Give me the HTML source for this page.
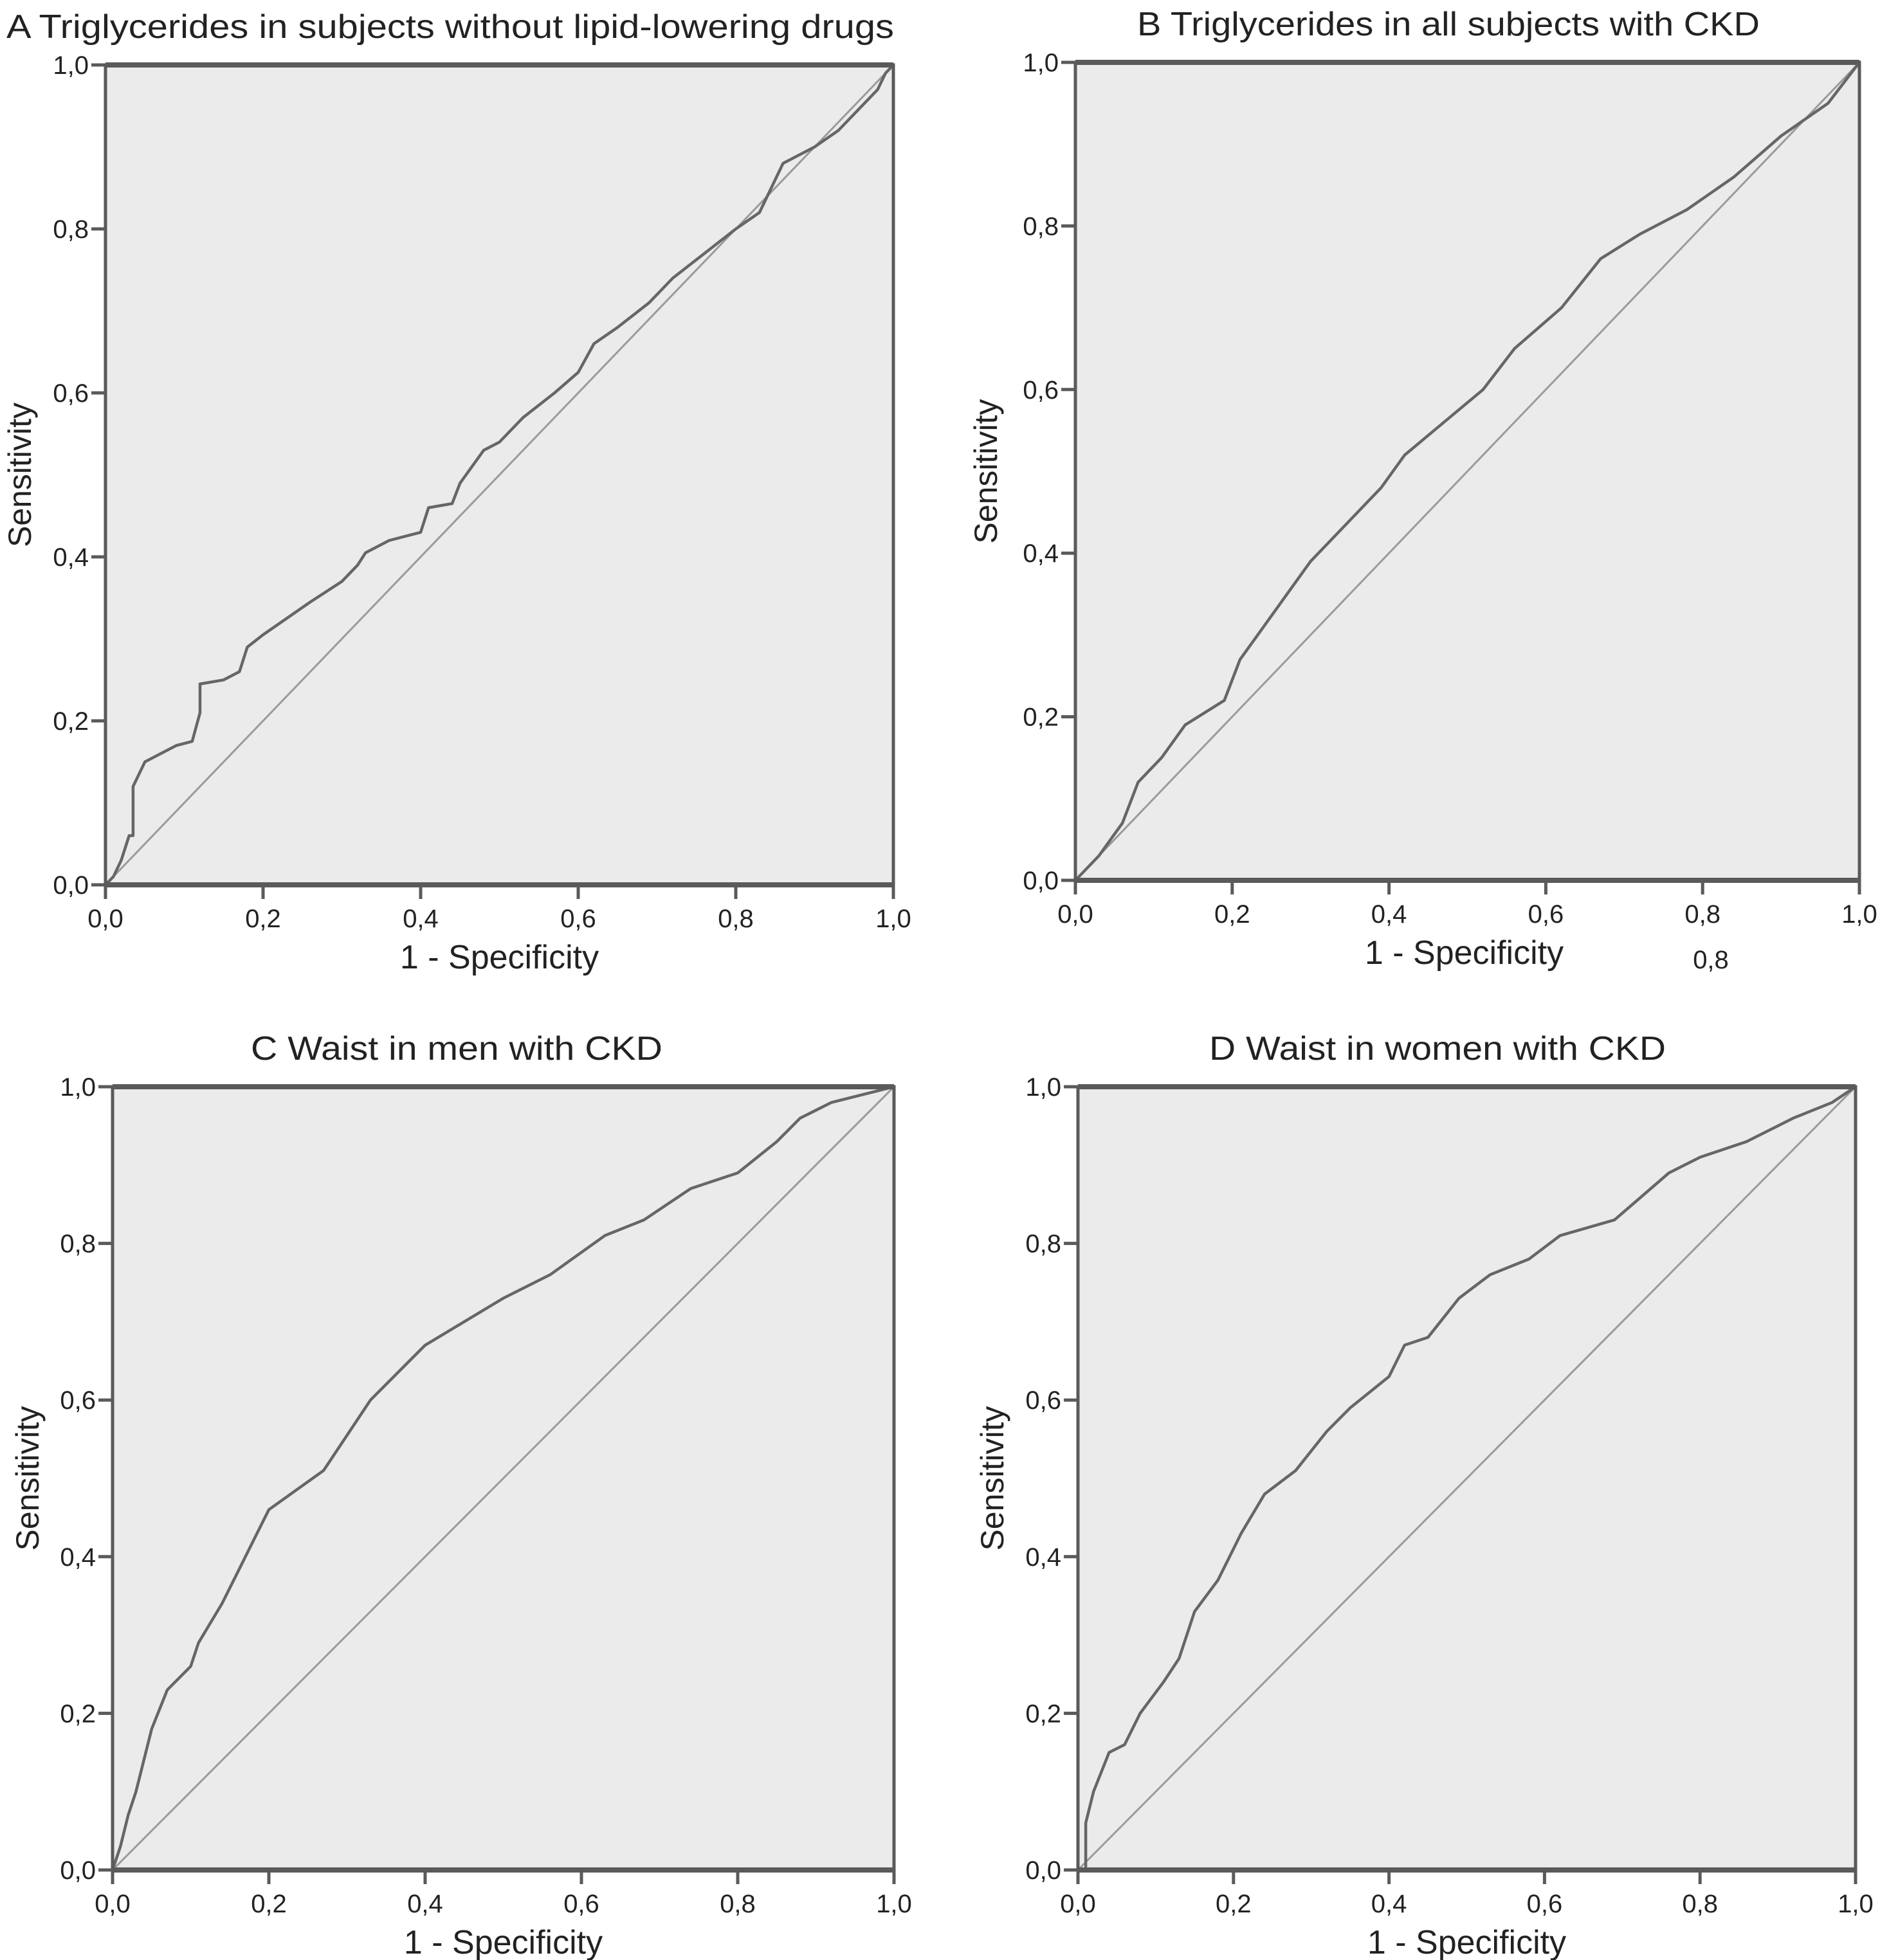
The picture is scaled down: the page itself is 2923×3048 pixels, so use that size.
<!DOCTYPE html>
<html><head><meta charset="utf-8">
<style>
html,body{margin:0;padding:0;background:#fff;}
svg{display:block;font-family:"Liberation Sans",sans-serif;}
</style></head>
<body>
<svg id="fig" width="2923" height="3048" viewBox="0 0 2923 3048" xmlns="http://www.w3.org/2000/svg"></svg>
<script>
const tickVals = [0, 0.2, 0.4, 0.6, 0.8, 1.0];
const tickLabels = ["0,0", "0,2", "0,4", "0,6", "0,8", "1,0"];
const titlesA = "Triglycerides in subjects without lipid-lowering drugs";
const titlesB = "Triglycerides in all subjects with CKD";
const titlesC = "Waist in men with CKD";
const titlesD = "Waist in women with CKD";
const fprA = [0,0.01,0.02,0.03,0.035,0.035,0.05,0.07,0.09,0.11,0.12,0.12,0.15,0.17,0.18,0.2,0.23,0.26,0.3,0.32,0.33,0.36,0.4,0.41,0.44,0.45,0.48,0.5,0.53,0.57,0.6,0.62,0.65,0.69,0.72,0.76,0.8,0.83,0.86,0.9,0.93,0.96,0.98,0.99,1];
const tprA = [0,0.01,0.03,0.06,0.06,0.12,0.15,0.16,0.17,0.175,0.21,0.245,0.25,0.26,0.29,0.305,0.325,0.345,0.37,0.39,0.405,0.42,0.43,0.46,0.465,0.49,0.53,0.54,0.57,0.6,0.625,0.66,0.68,0.71,0.74,0.77,0.8,0.82,0.88,0.9,0.92,0.95,0.97,0.99,1];
const fprB = [0,0.03,0.06,0.08,0.11,0.14,0.19,0.21,0.24,0.27,0.3,0.34,0.39,0.42,0.47,0.52,0.56,0.62,0.67,0.72,0.78,0.84,0.9,0.96,1];
const tprB = [0,0.03,0.07,0.12,0.15,0.19,0.22,0.27,0.31,0.35,0.39,0.43,0.48,0.52,0.56,0.6,0.65,0.7,0.76,0.79,0.82,0.86,0.91,0.95,1];
const fprC = [0,0.01,0.02,0.03,0.04,0.05,0.07,0.1,0.11,0.14,0.16,0.18,0.2,0.27,0.33,0.4,0.5,0.56,0.63,0.68,0.74,0.8,0.85,0.88,0.92,0.96,1];
const tprC = [0,0.03,0.07,0.1,0.14,0.18,0.23,0.26,0.29,0.34,0.38,0.42,0.46,0.51,0.6,0.67,0.73,0.76,0.81,0.83,0.87,0.89,0.93,0.96,0.98,0.99,1];
const fprD = [0,0.01,0.01,0.02,0.04,0.06,0.08,0.11,0.13,0.15,0.18,0.21,0.24,0.28,0.32,0.35,0.4,0.42,0.45,0.49,0.53,0.58,0.62,0.69,0.76,0.8,0.86,0.92,0.97,1];
const tprD = [0,0,0.06,0.1,0.15,0.16,0.2,0.24,0.27,0.33,0.37,0.43,0.48,0.51,0.56,0.59,0.63,0.67,0.68,0.73,0.76,0.78,0.81,0.83,0.89,0.91,0.93,0.96,0.98,1];

const NS = "http://www.w3.org/2000/svg";
const svg = document.getElementById("fig");
function mk(tag, attrs, parent){
  const e = document.createElementNS(NS, tag);
  for (const k in attrs) e.setAttribute(k, attrs[k]);
  (parent || svg).appendChild(e);
  return e;
}
const panels = [
  {id:"a", letter:"A", title:titlesA, x0:164, x1:1389, y0:101, y1:1376, fpr:fprA, tpr:tprA, tx:10, tlen:1380, ylx:48},
  {id:"b", letter:"B", title:titlesB, x0:1672, x1:2891, y0:97, y1:1369, fpr:fprB, tpr:tprB, tx:1768, tlen:968, ylx:1550},
  {id:"c", letter:"C", title:titlesC, x0:175, x1:1390, y0:1690, y1:2908, fpr:fprC, tpr:tprC, tx:390, tlen:640, ylx:60},
  {id:"d", letter:"D", title:titlesD, x0:1676, x1:2885, y0:1690, y1:2908, fpr:fprD, tpr:tprD, tx:1880, tlen:710, ylx:1560}
];
panels.forEach(p => {
  const g = mk("g", {});
  
  
  const sx = v => p.x0 + v * (p.x1 - p.x0);
  const sy = v => p.y1 - v * (p.y1 - p.y0);
  const bg = mk("rect", {x:p.x0, y:p.y0, width:p.x1-p.x0, height:p.y1-p.y0, fill:"#ebebeb"}, g);
  
  
  // diagonal
  const diag = mk("line", {x1:sx(0), y1:sy(0), x2:sx(1), y2:sy(1), stroke:"#9a9a9a", "stroke-width":3}, g);
  
  
  // curve
  let d = "";
  p.fpr.forEach((v, i) => { d += (i ? "L" : "M") + sx(v).toFixed(1) + "," + sy(p.tpr[i]).toFixed(1); });
  const curve = mk("path", {d:d, fill:"none", stroke:"#666", "stroke-width":4.5, "stroke-linejoin":"round"}, g);
  
  
  // frame
  const fr = mk("rect", {x:p.x0, y:p.y0, width:p.x1-p.x0, height:p.y1-p.y0, fill:"none", stroke:"#5a5a5a", "stroke-width":5}, g);
  
  
  mk("line", {x1:p.x0, y1:p.y0, x2:p.x1, y2:p.y0, stroke:"#5a5a5a", "stroke-width":8}, g);
  mk("line", {x1:p.x0, y1:p.y1, x2:p.x1, y2:p.y1, stroke:"#5a5a5a", "stroke-width":8}, g);
  tickVals.forEach((v, i) => {
    mk("line", {x1:sx(v), y1:p.y1, x2:sx(v), y2:p.y1+22, stroke:"#5a5a5a", "stroke-width":5}, g);
    mk("line", {x1:p.x0-22, y1:sy(v), x2:p.x0, y2:sy(v), stroke:"#5a5a5a", "stroke-width":5}, g);
    const xl = mk("text", {x:sx(v), y:p.y1+66, "font-size":40, "text-anchor":"middle", fill:"#222"}, g);
    xl.textContent = tickLabels[i];
    
    
    const yl = mk("text", {x:p.x0-26, y:sy(v)+14, "font-size":40, "text-anchor":"end", fill:"#222"}, g);
    yl.textContent = tickLabels[i];
    
    
  });
  const xt = mk("text", {x:(p.x0+p.x1)/2 - (p.id==="b"?5:0), y:p.y1+130, "font-size":52, "text-anchor":"middle", fill:"#222"}, g);
  xt.textContent = "1 - Specificity";
  
  
  const cy = (p.y0+p.y1)/2;
  const yt = mk("text", {x:p.ylx, y:cy, "font-size":50, "text-anchor":"middle", fill:"#222", transform:"rotate(-90 " + p.ylx + " " + cy + ")"}, g);
  yt.textContent = "Sensitivity";
  
  
  const tt = mk("text", {x:p.tx, y:p.y0-42, "font-size":52, fill:"#222", textLength:p.tlen, lengthAdjust:"spacingAndGlyphs"}, g);
  tt.textContent = p.letter + "  " + p.title;
  
  
});
const stray = mk("text", {x:2660, y:1506, "font-size":40, "text-anchor":"middle", fill:"#222"});
stray.textContent = "0,8";


</script>
</body></html>
